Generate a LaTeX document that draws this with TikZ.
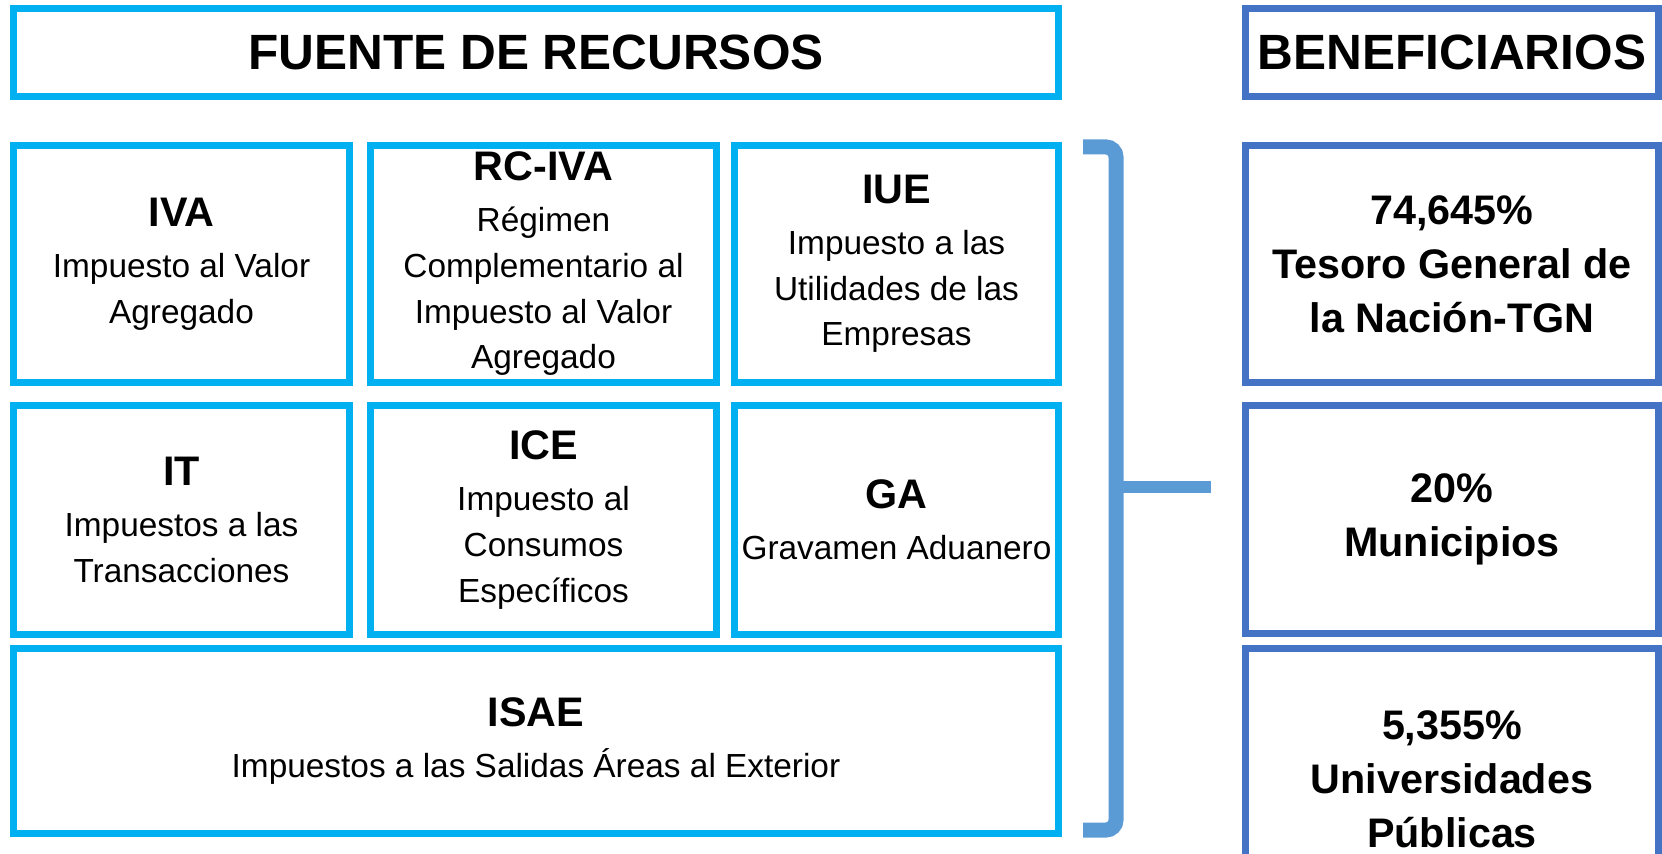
\documentclass[tikz,border=0pt]{standalone}
\usepackage{fontspec}
\setmainfont{Liberation Sans}
\definecolor{srcblue}{HTML}{00B0F0}
\definecolor{benblue}{HTML}{4472C4}
\definecolor{braceblue}{HTML}{5B9BD5}
\newcommand{\tax}[1]{{\fontsize{23.5}{28}\selectfont\bfseries #1}\\[3pt]}
\begin{document}
\begin{tikzpicture}[
  x=0.02cm, y=-0.02cm,
  src/.style={draw=srcblue, line width=0.14cm, inner sep=0pt, align=center,
    font=\fontsize{19}{26}\selectfont},
  ben/.style={draw=benblue, line width=0.14cm, inner sep=0pt, align=center,
    font=\fontsize{23.5}{30.7}\selectfont\bfseries},
  head/.style={minimum height=1.76cm, font=\fontsize{28.2}{34}\selectfont\bfseries},
  brace/.style={draw=braceblue, line width=0.3cm, rounded corners=0.2cm}
]
\clip (0,0) rectangle (1662,854);

% --- fuente de recursos ---
\node[src, head, minimum width=20.9cm] (fuente) at (536,52.5) {FUENTE DE RECURSOS};

\node[src, minimum width=6.72cm, minimum height=4.74cm] (iva) at (181.5,264)
  {\tax{IVA}Impuesto al Valor\\Agregado};
\node[src, minimum width=6.92cm, minimum height=4.74cm] (rciva) at (543.5,264)
  {\tax{RC-IVA}Régimen\\Complementario al\\Impuesto al Valor\\Agregado};
\node[src, minimum width=6.48cm, minimum height=4.74cm] (iue) at (896.5,264)
  {\tax{IUE}Impuesto a las\\Utilidades de las\\Empresas};

\node[src, minimum width=6.72cm, minimum height=4.58cm] (it) at (181.5,520)
  {\tax{IT}Impuestos a las\\Transacciones};
\node[src, minimum width=6.92cm, minimum height=4.58cm] (ice) at (543.5,520)
  {\tax{ICE}Impuesto al\\Consumos\\Específicos};
\node[src, minimum width=6.48cm, minimum height=4.58cm] (ga) at (896.5,520)
  {\tax{GA}Gravamen Aduanero};

\node[src, minimum width=20.9cm, minimum height=3.7cm] (isae) at (536,741)
  {\tax{ISAE}Impuestos a las Salidas Áreas al Exterior};

% --- beneficiarios ---
\node[ben, head, minimum width=8.26cm] (benef) at (1452,52.5) {BENEFICIARIOS};
\node[ben, minimum width=8.26cm, minimum height=4.74cm] (tgn) at (1452,264)
  {74,645\%\\Tesoro General de\\la Nación-TGN};
\node[ben, minimum width=8.26cm, minimum height=4.56cm] (mun) at (1452,519.5)
  {20\%\\Municipios};
\node[ben, minimum width=8.26cm, minimum height=5.22cm] (uni) at (1452,779)
  {5,355\%\\Universidades\\Públicas};

% --- brace ---
\coordinate (btop) at (1083,147);
\coordinate (bmid) at (1116,487);
\coordinate (btip) at (1211,487);
\coordinate (bbot) at (1083,830);
\draw[brace] (btop) -- (1116,147) -- (bmid) -- (1116,830) -- (bbot);
\draw[brace, line width=0.26cm, rounded corners=0pt] (bmid) -- (btip);

\end{tikzpicture}
\end{document}
